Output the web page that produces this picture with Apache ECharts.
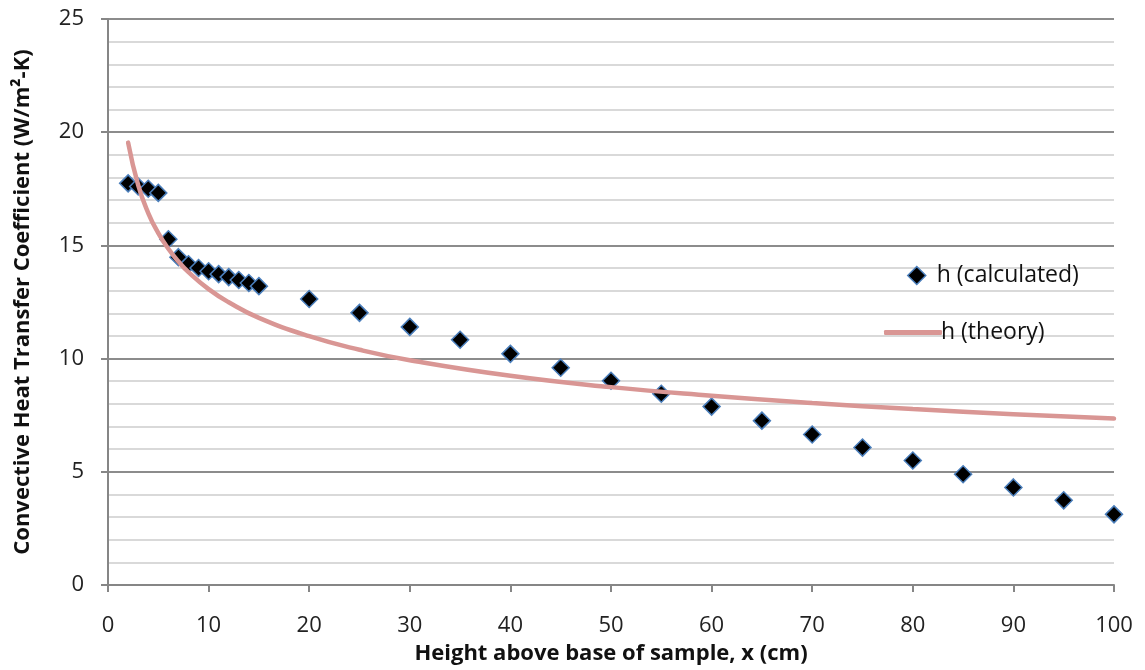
<!DOCTYPE html>
<html>
<head>
<meta charset="utf-8">
<script src="https://cdn.jsdelivr.net/npm/echarts@6/dist/echarts.min.js"></script>
<style>
  html, body { margin: 0; padding: 0; background: #fff; }
  #chart { width: 1145px; height: 670px; }
</style>
</head>
<body>
<div id="chart"></div>
<script>
// measured points, h (calculated)
var calcX = [2, 3, 4, 5, 6, 7, 8, 9, 10, 11, 12, 13, 14, 15, 20, 25, 30, 35, 40, 45, 50, 55, 60, 65, 70, 75, 80, 85, 90, 95, 100];
var calcY = [17.74, 17.6, 17.5, 17.32, 15.27, 14.48, 14.17, 14.0, 13.86, 13.73, 13.6, 13.47, 13.34, 13.2,
  12.63, 12.02, 11.4, 10.83, 10.21, 9.6, 9.02, 8.45, 7.88, 7.26, 6.65, 6.07, 5.5, 4.89, 4.31, 3.74, 3.12];

// theory curve
var theoryX = [2, 3, 4, 5, 6, 7, 8, 10, 12, 15, 20, 25, 30, 40, 50, 60, 70, 80, 90, 100];
var theoryY = [19.54, 17.66, 16.43, 15.54, 14.85, 14.29, 13.82, 13.07, 12.49, 11.8, 10.99, 10.39, 9.93, 9.24, 8.74, 8.36, 8.04, 7.77, 7.54, 7.35];

var xName = 'Height above base of sample, x (cm)';
var yName = 'Convective Heat Transfer Coefficient (W/m\u00b2-K)';

function pairs(xs, ys) {
  return xs.map(function(x, i) { return [x, ys[i]]; });
}

var font = '"Open Sans", sans-serif';
var chart = echarts.init(document.getElementById('chart'));

chart.setOption({
  animation: false,
  textStyle: { fontFamily: font },
  grid: { left: 108, right: 31, top: 19, bottom: 83 },
  legend: [
    {
      data: [{ name: 'h (calculated)', icon: 'diamond',
        itemStyle: { color: '#000', borderColor: '#4a7ebb', borderWidth: 1.5 } }],
      left: 902, top: 259,
      itemWidth: 18, itemHeight: 18, itemGap: 0,
      textStyle: { fontFamily: font, fontSize: 23, color: '#111', padding: [0, 0, 0, 6] }
    },
    {
      data: [{ name: 'h (theory)', icon: 'roundRect' }],
      left: 879, top: 316,
      itemWidth: 58, itemHeight: 5,
      textStyle: { fontFamily: font, fontSize: 23, color: '#111', padding: [0, 0, 0, -6] }
    }
  ],
  xAxis: {
    type: 'value',
    min: 0, max: 100, interval: 10,
    name: xName,
    nameLocation: 'middle',
    nameGap: 58,
    nameTextStyle: { fontFamily: font, fontSize: 22, fontWeight: 'bold', color: '#111' },
    axisLine: { show: true, lineStyle: { color: '#868686', width: 2 } },
    axisTick: { show: true, length: 7, lineStyle: { color: '#868686', width: 2 } },
    axisLabel: { margin: 30, fontSize: 22, color: '#222', fontFamily: font },
    splitLine: { show: false }
  },
  yAxis: {
    type: 'value',
    min: 0, max: 25, interval: 5,
    name: yName,
    nameLocation: 'middle',
    nameRotate: 90,
    nameGap: 74,
    nameTextStyle: { fontFamily: font, fontSize: 22, fontWeight: 'bold', color: '#111' },
    axisLine: { show: true, lineStyle: { color: '#868686', width: 2 } },
    axisTick: { show: true, length: 7, lineStyle: { color: '#868686', width: 2 } },
    axisLabel: { margin: 24, fontSize: 22, color: '#222', fontFamily: font },
    splitLine: { show: true, lineStyle: { color: '#8c8c8c', width: 2 } },
    minorTick: { show: false, splitNumber: 5 },
    minorSplitLine: { show: true, lineStyle: { color: '#d9d9d9', width: 2 } }
  },
  series: [
    {
      name: 'h (calculated)',
      type: 'scatter',
      data: pairs(calcX, calcY),
      symbol: 'diamond',
      symbolSize: 17,
      itemStyle: { color: '#000', opacity: 1, borderColor: '#4a7ebb', borderWidth: 1.5 },
      z: 2
    },
    {
      name: 'h (theory)',
      type: 'line',
      data: pairs(theoryX, theoryY),
      smooth: true,
      showSymbol: false,
      symbol: 'none',
      lineStyle: { color: '#d99694', width: 4.5, cap: 'round' },
      itemStyle: { color: '#d99694' },
      z: 3
    }
  ]
});
</script>
</body>
</html>
